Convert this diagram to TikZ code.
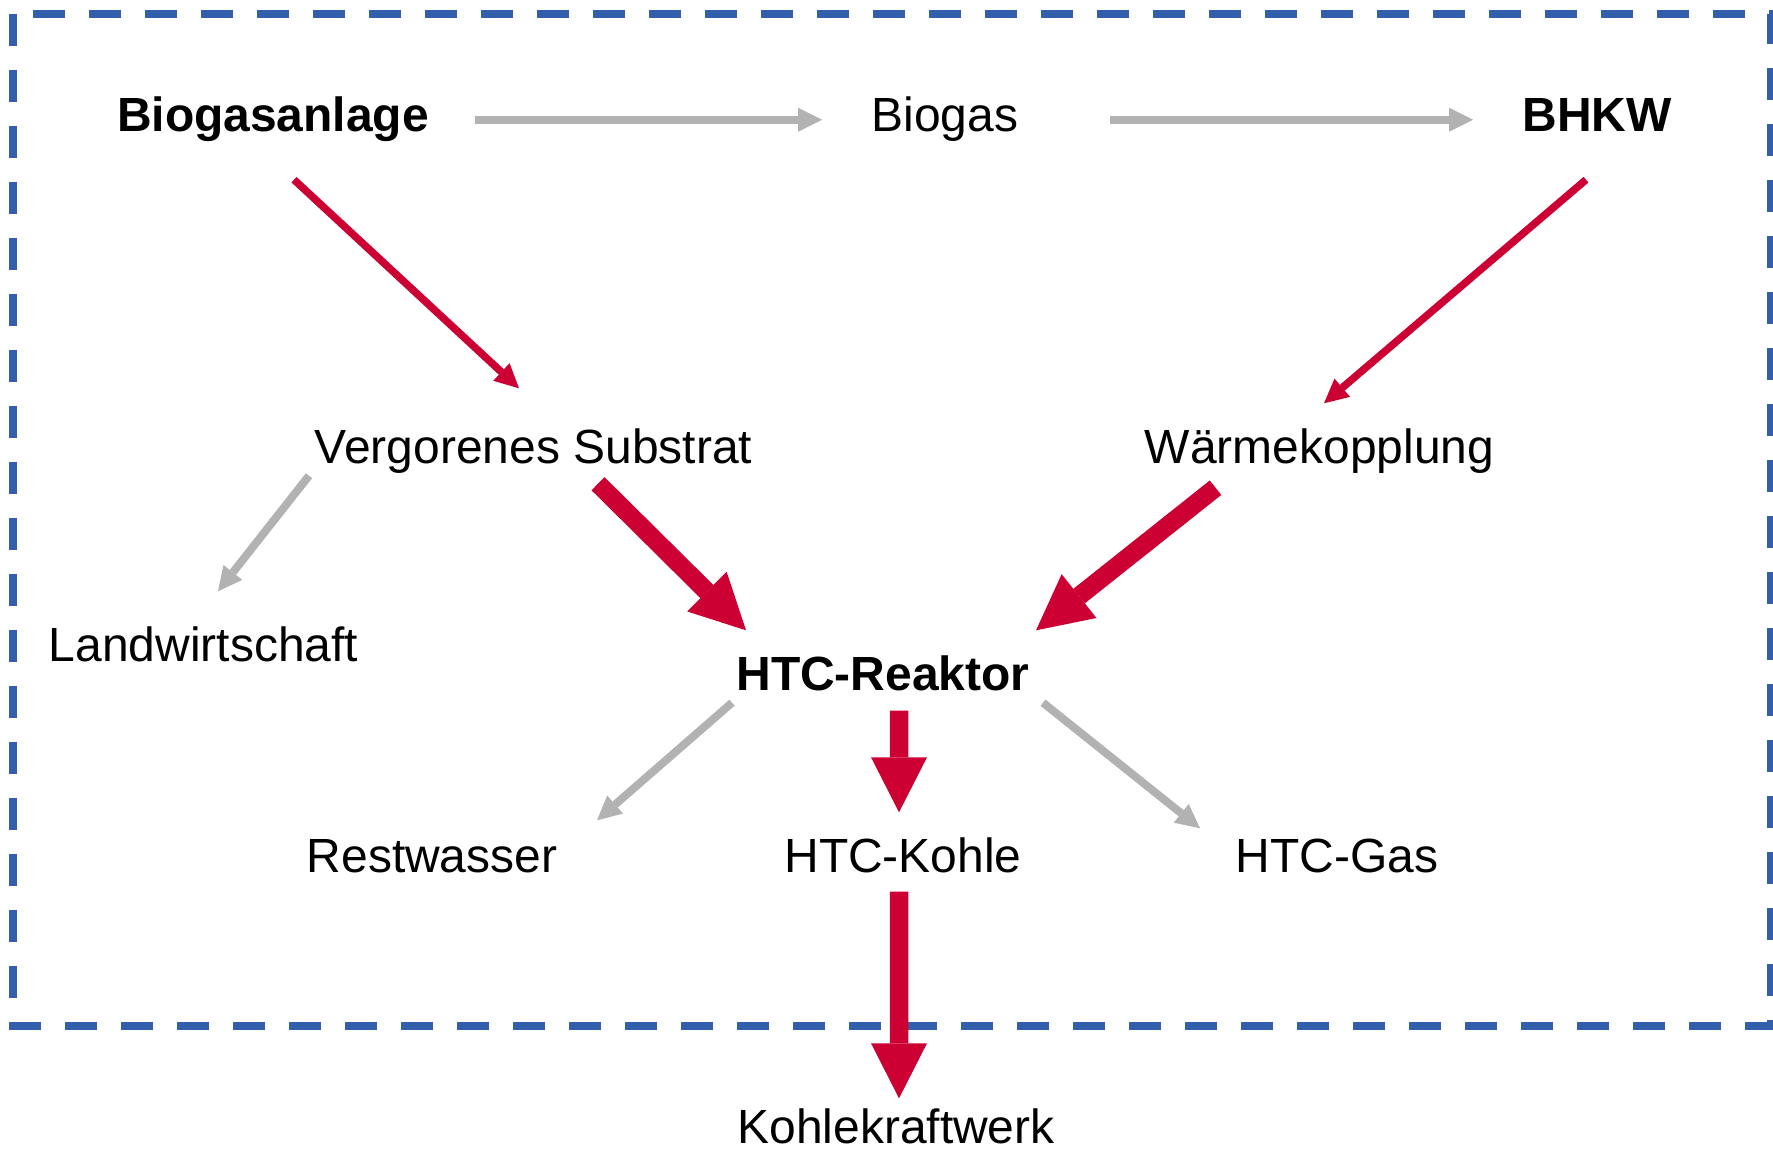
\documentclass[tikz,border=0pt]{standalone}
\usepackage{fontspec}
\setmainfont{Liberation Sans}
\usetikzlibrary{arrows.meta}

\definecolor{htcred}{RGB}{204,0,51}
\definecolor{flowgray}{RGB}{178,178,178}
\definecolor{frameblue}{RGB}{51,94,171}

\tikzset{
  lbl/.style={inner sep=0pt, text height=3.65mm, text depth=1.2mm, anchor=base,
    font=\fontsize{13.65}{16}\selectfont},
  lblbold/.style={lbl, font=\fontsize{13.65}{16}\selectfont\bfseries},
  grayarrow/.style={draw=flowgray, line width=0.8mm,
    -{Triangle[length=2.4mm,width=2.4mm,line width=0pt]}},
  redarrow/.style={draw=htcred, line width=0.75mm,
    -{Triangle[length=2.4mm,width=2.4mm,line width=0pt]}},
  bigarrow/.style={draw=htcred, line width=1.85mm,
    -{Triangle[length=5.5mm,width=5.6mm,line width=0pt]}},
  frame/.style={draw=frameblue, line width=0.8mm, dash pattern=on 3.2mm off 2.4mm}
}

\begin{document}
\begin{tikzpicture}

\useasboundingbox (0,0) rectangle (17.73,11.48);

% system boundary
\draw[frame] (0.13,11.34) rectangle (17.71,1.22);

% top row
\node[lblbold] (bga) at (2.73,10.16) {Biogasanlage};
\node[lbl] (biogas) at (9.45,10.16) {Biogas};
\node[lblbold] (bhkw) at (15.97,10.16) {BHKW};

% middle
\node[lbl] (vs) at (5.335,6.85) {Vergorenes Substrat};
\node[lbl] (wk) at (13.195,6.85) {Wärmekopplung};
\node[lbl] (lw) at (2.035,4.87) {Landwirtschaft};
\node[lblbold] (htc) at (8.83,4.58) {HTC-Reaktor};

% products
\node[lbl] (rw) at (4.32,2.76) {Restwasser};
\node[lbl] (kohle) at (9.03,2.76) {HTC-Kohle};
\node[lbl] (gas) at (13.37,2.76) {HTC-Gas};
\node[lbl] (kkw) at (8.96,0.05) {Kohlekraftwerk};

\draw[grayarrow] ([xshift=20.2mm]bga.center) -- ([xshift=-12.3mm]biogas.center);
\draw[grayarrow] ([xshift=16.5mm]biogas.center) -- ([xshift=-12.4mm]bhkw.center);

\draw[redarrow] ([shift={(0.21,-0.35)}]bga.south) -- ([shift={(-0.145,0.375)}]vs.north);
\draw[redarrow] ([shift={(-0.11,-0.35)}]bhkw.south) -- ([shift={(0.045,0.225)}]wk.north);

\draw[grayarrow] ([xshift=-22.45mm]vs.south) -- ([shift={(0.145,0.325)}]lw.north);

\draw[bigarrow] ([shift={(0.645,-0.08)}]vs.south) -- ([shift={(-1.37,0.225)}]htc.north);
\draw[bigarrow] ([shift={(-1.04,-0.12)}]wk.south) -- ([shift={(1.53,0.225)}]htc.north);

\draw[grayarrow] ([xshift=-15.1mm]htc.south) -- ([shift={(1.65,0.145)}]rw.north);
\draw[bigarrow] ([shift={(0.16,-0.08)}]htc.south) -- ([shift={(-0.04,0.225)}]kohle.north);
\draw[grayarrow] ([xshift=16mm]htc.south) -- ([shift={(-1.37,0.065)}]gas.north);

\draw[bigarrow] ([shift={(-0.04,-0.07)}]kohle.south) -- ([shift={(0.03,0.075)}]kkw.north);

\end{tikzpicture}
\end{document}
